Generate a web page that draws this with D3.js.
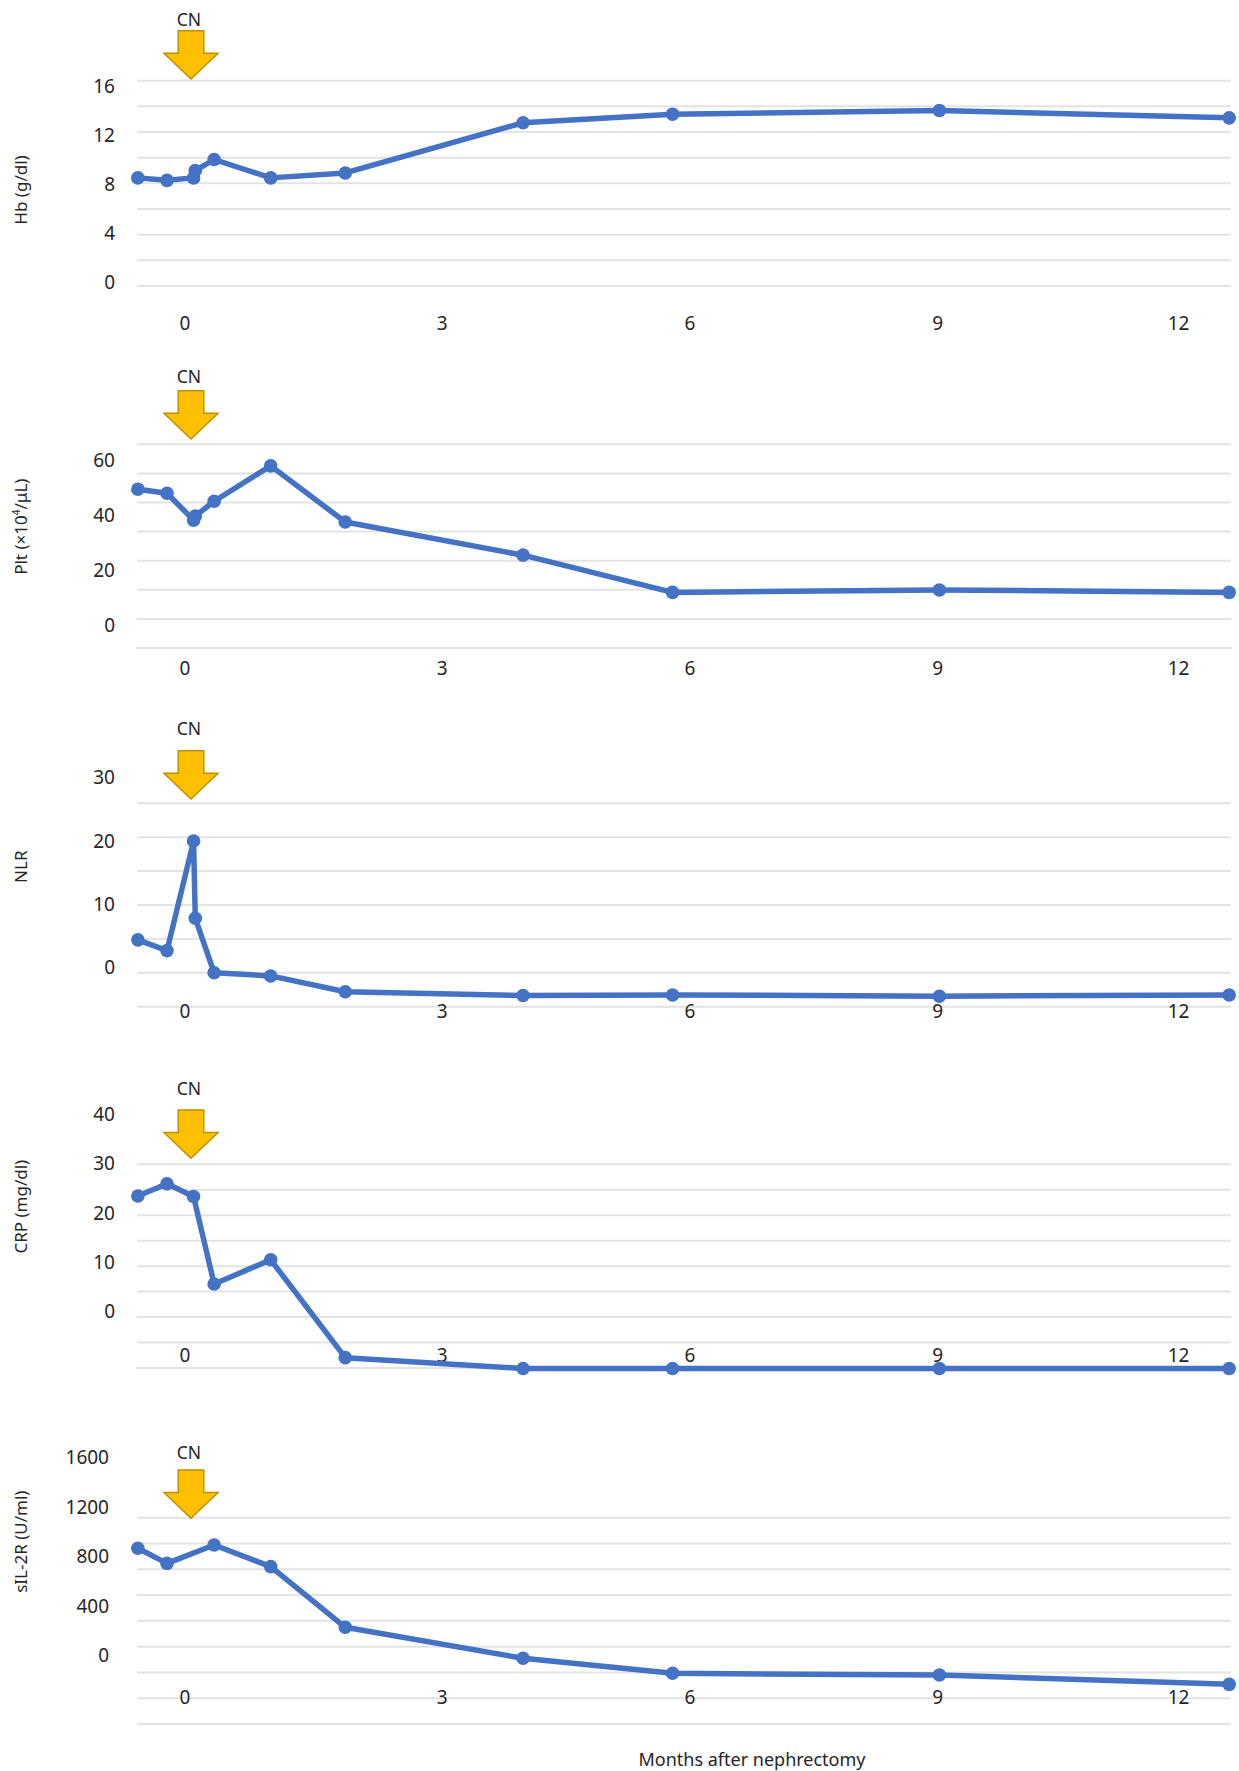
<!DOCTYPE html>
<html>
<head>
<meta charset="utf-8">
<script src="https://cdnjs.cloudflare.com/ajax/libs/d3/7.8.5/d3.min.js"></script>
<style>
    body { margin: 0; background: #fff; }
    text { font-family: "Noto Sans", "DejaVu Sans", sans-serif; fill: #262626; }
</style>
</head>
<body>
<div id="chart"></div>
<script>
// months after nephrectomy for each measurement
const months = [-0.55, -0.21, 0.1, 0.12, 0.34, 1.0, 1.87, 3.98, 5.79, 9.02, 12.63];
const hbValues = [8.5, 8.3, 8.5, 9.1, 10.0, 8.5, 8.9, 13.0, 13.7, 14.0, 13.4];
const pltValues = [49.6, 48.1, 38.3, 39.8, 45.2, 58.1, 37.6, 25.5, 11.9, 12.8, 11.9];
const nlrValues = [4.4, 2.7, 20.0, 7.8, -0.8, -1.3, -3.8, -4.4, -4.3, -4.5, -4.3];
const crpValues = [23.4, 25.9, 23.3, null, 5.6, 10.5, -9.3, -11.5, -11.5, -11.5, -11.5];
const sil2rValues = [866, 745, null, null, 893, 718, 229, -21, -142, -156, -231];

const xTicks = [0, 3, 6, 9, 12];
const hbTicks = [0, 4, 8, 12, 16];
const pltTicks = [0, 20, 40, 60];
const nlrTicks = [0, 10, 20, 30];
const crpTicks = [0, 10, 20, 30, 40];
const sil2rTicks = [0, 400, 800, 1200, 1600];

const cnMonth = 0.07;
const xTitle = "Months after nephrectomy";

const width = 1239, height = 1771;
const gridLeft = 137, gridRight = 1231;
const lineColor = "#4472C4";

const svg = d3.select("#chart").append("svg")
    .attr("width", width)
    .attr("height", height);

// month labels are not quite evenly spaced in the original
const x = d3.scaleLinear()
    .domain(xTicks)
    .range([185, 442.1, 689.9, 937.8, 1178.6]);

const panels = [
    { title: "Hb (g/dl)", values: hbValues, ticks: hbTicks, yRange: [282, 86], titleY: 190,
      gridTop: 80.7, gridBottom: 286, gridCount: 9, cnY: 20, arrowTop: 30.7, xLabelY: 323.3, tickX: 115 },
    { title: "Plt", values: pltValues, ticks: pltTicks, yRange: [625, 460.7], titleY: 526.7,
      gridTop: 444.3, gridBottom: 648, gridCount: 8, cnY: 377.3, arrowTop: 390.7, xLabelY: 668.3, tickX: 115 },
    { title: "NLR", values: nlrValues, ticks: nlrTicks, yRange: [967.7, 777.7], titleY: 866.7,
      gridTop: 803.3, gridBottom: 1006.7, gridCount: 7, cnY: 729, arrowTop: 750.7, xLabelY: 1011.7, tickX: 115 },
    { title: "CRP (mg/dl)", values: crpValues, ticks: crpTicks, yRange: [1311.7, 1114], titleY: 1206.7,
      gridTop: 1164.3, gridBottom: 1368, gridCount: 9, cnY: 1089, arrowTop: 1110, xLabelY: 1355.7, tickX: 115 },
    { title: "sIL-2R (U/ml)", values: sil2rValues, ticks: sil2rTicks, yRange: [1655.7, 1457.3], titleY: 1541.7,
      gridTop: 1517.7, gridBottom: 1724, gridCount: 9, cnY: 1452.7, arrowTop: 1470, xLabelY: 1697.3, tickX: 109 }
];

function drawArrow(g, cx, top) {
    const shaftW = 12.8, headW = 27, shaftH = 22.6, total = 48.3;
    const pts = [
        [cx - shaftW, top], [cx + shaftW, top], [cx + shaftW, top + shaftH],
        [cx + headW, top + shaftH], [cx, top + total], [cx - headW, top + shaftH],
        [cx - shaftW, top + shaftH]
    ];
    g.append("polygon")
        .attr("points", pts.map(p => p.join(",")).join(" "))
        .attr("fill", "#FFC000")
        .attr("stroke", "#BF9000")
        .attr("stroke-width", 1.5);
}

panels.forEach(p => {
    const g = svg.append("g");
    const y = d3.scaleLinear()
        .domain([p.ticks[0], p.ticks[p.ticks.length - 1]])
        .range(p.yRange);

    // gridlines
    const step = (p.gridBottom - p.gridTop) / (p.gridCount - 1);
    g.selectAll(".grid")
        .data(d3.range(p.gridCount))
        .enter().append("line")
        .attr("x1", gridLeft)
        .attr("x2", gridRight)
        .attr("y1", i => p.gridTop + i * step)
        .attr("y2", i => p.gridTop + i * step)
        .attr("stroke", "#e3e3e3")
        .attr("stroke-width", 2);

    // y tick labels
    g.selectAll(".ytick")
        .data(p.ticks)
        .enter().append("text")
        .attr("x", p.tickX)
        .attr("y", d => y(d))
        .attr("dy", "0.35em")
        .attr("text-anchor", "end")
        .attr("font-size", 19)
        .text(d => d);

    // x tick labels
    g.selectAll(".xtick")
        .data(xTicks)
        .enter().append("text")
        .attr("x", d => x(d))
        .attr("y", p.xLabelY)
        .attr("dy", "0.35em")
        .attr("text-anchor", "middle")
        .attr("font-size", 19)
        .text(d => d);

    // y axis title
    const title = g.append("text")
        .attr("transform", `translate(21,${p.titleY}) rotate(-90)`)
        .attr("dy", "0.35em")
        .attr("text-anchor", "middle")
        .attr("font-size", 17);
    if (p.title === "Plt") {
        title.append("tspan").text("Plt (×10");
        title.append("tspan").attr("baseline-shift", "super").attr("font-size", 10).text("4");
        title.append("tspan").text("/μL)");
    } else {
        title.text(p.title);
    }

    // CN marker
    g.append("text")
        .attr("x", x(cnMonth) - 2)
        .attr("y", p.cnY)
        .attr("dy", "0.35em")
        .attr("text-anchor", "middle")
        .attr("font-size", 17.5)
        .text("CN");
    drawArrow(g, x(cnMonth), p.arrowTop);

    // line + points
    const pts = months.map((m, i) => ({ m: m, v: p.values[i] })).filter(d => d.v !== null);
    const line = d3.line()
        .x(d => x(d.m))
        .y(d => y(d.v));

    g.append("path")
        .datum(pts)
        .attr("d", line)
        .attr("fill", "none")
        .attr("stroke", lineColor)
        .attr("stroke-width", 5.5)
        .attr("stroke-linejoin", "round");

    g.selectAll(".pt")
        .data(pts)
        .enter().append("circle")
        .attr("cx", d => x(d.m))
        .attr("cy", d => y(d.v))
        .attr("r", 6.8)
        .attr("fill", lineColor);
});

svg.append("text")
    .attr("x", 752)
    .attr("y", 1759.3)
    .attr("dy", "0.35em")
    .attr("text-anchor", "middle")
    .attr("font-size", 18)
    .text(xTitle);
</script>
</body>
</html>
